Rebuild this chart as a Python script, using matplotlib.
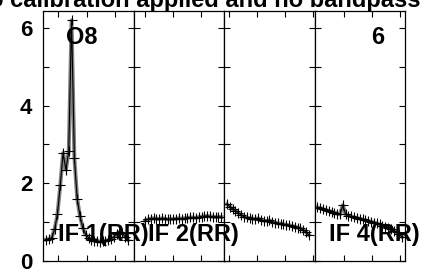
import matplotlib
matplotlib.use('Agg')
import matplotlib.pyplot as plt
import numpy as np

plt.rcParams['font.family'] = ['Liberation Sans', 'DejaVu Sans']
plt.rcParams['font.weight'] = 'bold'

# 通道与每个 IF 的幅度
ch1 = list(range(1, 31))
amp1 = [0.55, 0.56, 0.60, 0.82, 1.20, 1.95, 2.78, 2.35, 2.82, 6.20,
        2.65, 1.60, 1.15, 0.85, 0.68, 0.60, 0.55, 0.52, 0.51, 0.50,
        0.51, 0.52, 0.54, 0.57, 0.62, 0.70, 0.74, 0.72, 0.62, 0.54]

ch2 = list(range(4, 32))
amp2 = [1.04, 1.07, 1.09, 1.10, 1.09, 1.08, 1.10, 1.09, 1.07, 1.08,
        1.08, 1.09, 1.10, 1.09, 1.10, 1.11, 1.12, 1.12, 1.11, 1.13,
        1.14, 1.15, 1.16, 1.15, 1.14, 1.13, 1.14, 1.13]

ch3 = list(range(1, 31))
amp3 = [1.46, 1.40, 1.34, 1.30, 1.24, 1.19, 1.14, 1.12, 1.10, 1.09,
        1.08, 1.10, 1.06, 1.04, 1.03, 1.05, 1.01, 0.99, 0.97, 0.96,
        0.95, 0.93, 0.92, 0.90, 0.88, 0.86, 0.84, 0.80, 0.74, 0.67]

ch4 = list(range(1, 32))
amp4 = [1.38, 1.36, 1.33, 1.31, 1.29, 1.27, 1.24, 1.22, 1.20, 1.44,
        1.20, 1.17, 1.15, 1.12, 1.10, 1.09, 1.07, 1.05, 1.03, 1.01,
        0.99, 0.97, 0.94, 0.91, 0.88, 0.85, 0.82, 0.78, 0.74, 0.69, 0.62]

chans = [ch1, ch2, ch3, ch4]
amps = [amp1, amp2, amp3, amp4]
if_labels = ['IF 1(RR)', 'IF 2(RR)', '', 'IF 4(RR)']
xticks = [[5.3, 15.4, 25.4], [4.1, 14.0, 23.8], [1.6, 11.75, 21.6, 31.4],
          [10.4, 20.2, 30.3]]

fig = plt.figure(figsize=(4.22, 2.73), dpi=100)
gs = fig.add_gridspec(1, 4, left=0.1026, right=0.9597, bottom=0.044,
                      top=0.9615, wspace=0)

axes = []
for i in range(4):
    ax = fig.add_subplot(gs[0, i])
    axes.append(ax)
    ax.plot(chans[i], amps[i], color='0.5', lw=2.8, zorder=1)
    ax.plot(chans[i], amps[i], color='black', lw=0.8, marker='+',
            markersize=7, markeredgewidth=0.8, zorder=2)
    ax.set_xlim(0, 32)
    ax.set_ylim(0, 6.45)
    ax.set_xticks(xticks[i])
    ax.set_xticklabels([])
    ax.set_yticks([0, 1, 2, 3, 4, 5, 6])
    if i == 0:
        ax.set_yticklabels(['0', '', '2', '', '4', '', '6'])
    else:
        ax.set_yticklabels([])
    ax.tick_params(direction='in', length=4, width=0.8, top=True, right=True,
                   labelsize=16, pad=8)
    for s in ax.spines.values():
        s.set_linewidth(0.9)
    if i == 0:
        ax.text(0.43, 0.94, 'O8', transform=ax.transAxes, ha='center',
                va='top', fontsize=17, fontweight='bold')
    if i == 3:
        ax.text(0.70, 0.94, '6', transform=ax.transAxes, ha='center',
                va='top', fontsize=17, fontweight='bold')

# IF 标签画在图层最上面，可以跨到右边的面板
for ax, lab in zip(axes, if_labels):
    if lab:
        fig.text(1.166, 0.08, lab, transform=ax.transAxes, ha='right',
                 va='baseline', fontsize=17, fontweight='bold')

fig.text(0.466, 0.974, 'No calibration applied and no bandpass',
         ha='center', va='baseline', fontsize=17, fontweight='bold')

plt.savefig('out.png', dpi=100)
plt.close()
